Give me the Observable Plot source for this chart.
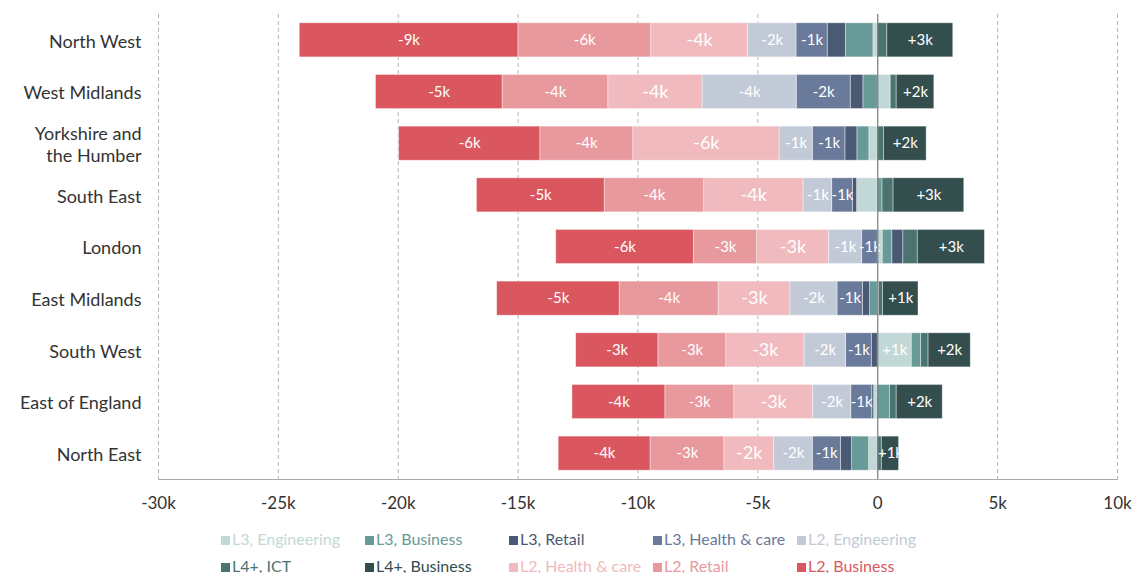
<!DOCTYPE html>
<html>
<head>
<meta charset="utf-8">
<script src="https://cdn.jsdelivr.net/npm/d3@7"></script>
<script src="https://cdn.jsdelivr.net/npm/@observablehq/plot@0.6"></script>
<style>
  html, body { margin: 0; padding: 0; background: #fff; }
  body { width: 1136px; height: 573px; overflow: hidden; font-family: Lato, sans-serif; }
  #legend { display: grid; grid-template-columns: repeat(5, 144px); margin-left: 221px; margin-top: 5px; }
  #legend div { height: 27px; line-height: 27px; font-size: 16px; white-space: nowrap; }
  #legend span.sw { display: inline-block; width: 9px; height: 9px; margin-right: 2px; vertical-align: 0px; }
</style>
</head>
<body>
<div id="chart"></div>
<div id="legend"></div>
<script>
const regions = ["North West", "West Midlands", "Yorkshire and the Humber", "South East", "London",
  "East Midlands", "South West", "East of England", "North East"];

// stacking order (closest to zero first)
const seriesNames = ["L3, Engineering", "L3, Business", "L3, Retail", "L3, Health & care",
  "L2, Engineering", "L2, Health & care", "L2, Retail", "L2, Business", "L4+, ICT", "L4+, Business"];

const seriesColors = ["#c2d8d6", "#689a98", "#4a5a74", "#6a7a9a",
  "#c3cad7", "#f0babe", "#e8999e", "#da5760", "#4b7470", "#344e4e"];

// values in thousands, per region (same order as regions)
const l3Engineering = [-0.18, 0.54, -0.35, -0.86, 0.21, 0.05, 1.42, -0.15, -0.36];
const l3Business    = [-1.15, -0.60, -0.50, 0.20, 0.40, -0.32, 0.39, 0.51, -0.71];
const l3Retail      = [-0.76, -0.53, -0.50, -0.18, 0.46, -0.30, -0.25, -0.08, -0.47];
const l3Health      = [-1.30, -2.25, -1.36, -0.86, -0.65, -1.06, -1.07, -0.875, -1.17];
const l2Engineering = [-2.02, -3.93, -1.39, -1.20, -1.39, -1.97, -1.74, -1.60, -1.61];
const l2Health      = [-4.04, -3.93, -6.10, -4.14, -2.99, -2.99, -3.26, -3.28, -2.08];
const l2Retail      = [-5.54, -4.41, -3.875, -4.15, -2.64, -4.125, -2.83, -2.875, -3.08];
const l2Business    = [-9.12, -5.28, -5.89, -5.33, -5.74, -5.11, -3.43, -3.875, -3.83];
const l4ICT         = [0.40, 0.25, 0.26, 0.46, 0.60, 0.17, 0.31, 0.28, 0.17];
const l4Business    = [2.75, 1.57, 1.78, 2.95, 2.80, 1.48, 1.76, 1.92, 0.72];

const seriesValues = [l3Engineering, l3Business, l3Retail, l3Health, l2Engineering,
  l2Health, l2Retail, l2Business, l4ICT, l4Business];

const legendOrder = ["L3, Engineering", "L3, Business", "L3, Retail", "L3, Health & care", "L2, Engineering",
  "L4+, ICT", "L4+, Business", "L2, Health & care", "L2, Retail", "L2, Business"];

const xTicks = [-30, -25, -20, -15, -10, -5, 0, 5, 10];

const unlabelled = ["L3, Business", "L3, Retail", "L4+, ICT"];

const data = regions.flatMap((region, i) =>
  seriesNames.map((s, j) => ({region, series: s, value: seriesValues[j][i]})));

const fmt = v => (v > 0 ? "+" : "-") + Math.abs(Math.round(v)) + "k";
const showLabel = d => !unlabelled.includes(d.series) &&
  Math.abs(d.value) >= (d.series === "L3, Engineering" ? 1 : 0.6);

const font = "Lato, sans-serif";

const chart = Plot.plot({
  width: 1136,
  height: 520,
  marginLeft: 158,
  marginRight: 19,
  marginTop: 14,
  marginBottom: 41,
  style: {fontFamily: font, fontSize: "17px", color: "#333", background: "#fff"},
  x: {domain: [-30, 10], ticks: xTicks, tickFormat: d => d === 0 ? "0" : (d < 0 ? "-" : "") + Math.abs(d) + "k", label: null},
  y: {domain: regions, paddingInner: 0.34, paddingOuter: 0.17, round: false, label: null},
  color: {domain: seriesNames, range: seriesColors},
  marks: [
    Plot.ruleX(xTicks.filter(d => d !== 0), {stroke: "#b5b5b5", strokeDasharray: "4,3", strokeWidth: 1}),
    Plot.frame({anchor: "bottom", stroke: "#aaa"}),
    Plot.barX(data, Plot.stackX({x: "value", y: "region", fill: "series", stroke: "#ffffff", strokeOpacity: 0.5, strokeWidth: 0.8})),
    Plot.text(data, Plot.stackX({x: "value", y: "region",
      text: d => showLabel(d) && d.series !== "L2, Health & care" ? fmt(d.value) : null,
      fill: "white", fontSize: 15})),
    Plot.text(data, Plot.stackX({x: "value", y: "region",
      text: d => showLabel(d) && d.series === "L2, Health & care" ? fmt(d.value) : null,
      fill: "white", fontSize: 18})),
    Plot.ruleX([0], {stroke: "#7a7a7a", strokeWidth: 1.2}),
    Plot.axisX({ticks: xTicks, tickSize: 0, tickPadding: 17, fontSize: 17, fill: "#333",
      tickFormat: d => d === 0 ? "0" : (d < 0 ? "-" : "") + Math.abs(d) + "k"}),
    Plot.axisY({tickSize: 0, tickPadding: 17, fontSize: 18, lineHeight: 1.25, fill: "#333",
      tickFormat: d => d === "Yorkshire and the Humber" ? "Yorkshire and\nthe Humber" : d})
  ]
});
document.getElementById("chart").appendChild(chart);

const legend = document.getElementById("legend");
for (const name of legendOrder) {
  const c = seriesColors[seriesNames.indexOf(name)];
  const div = document.createElement("div");
  div.style.color = c;
  const sw = document.createElement("span");
  sw.className = "sw";
  sw.style.background = c;
  div.appendChild(sw);
  div.appendChild(document.createTextNode(name));
  legend.appendChild(div);
}
</script>
</body>
</html>
